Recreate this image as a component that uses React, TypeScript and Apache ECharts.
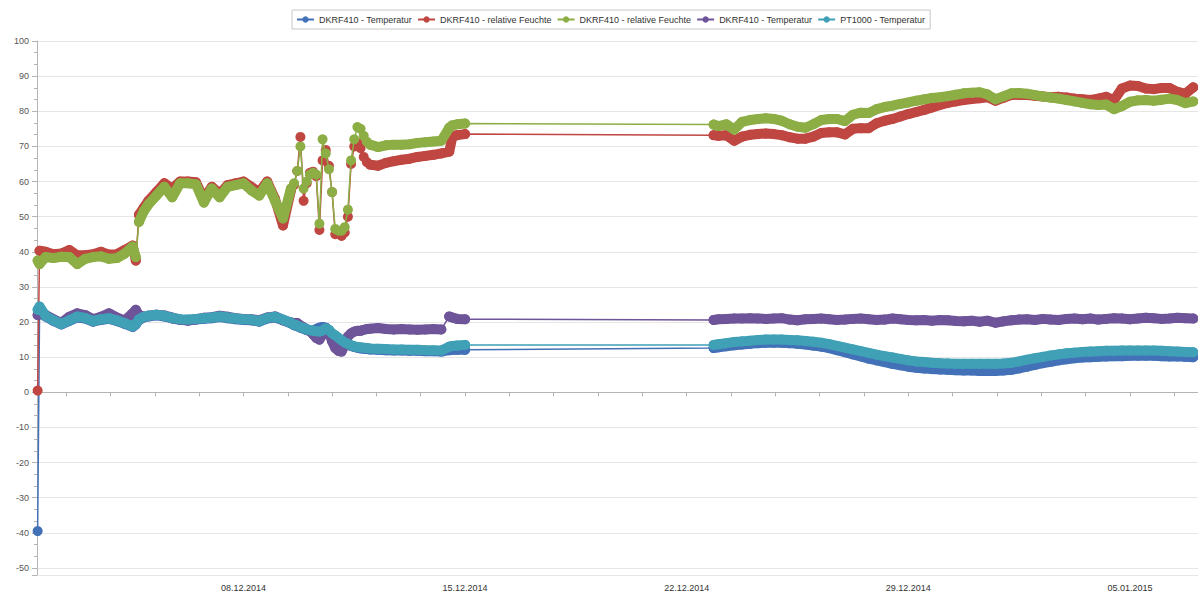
import React, { useEffect, useRef } from "react";
import * as echarts from "echarts";

// time in days since 01.12.2014 00:00
const days = [
  0.5, 0.56, 0.75, 1, 1.25, 1.5, 1.75, 2, 2.25, 2.5, 2.75, 3, 3.25, 3.5,
  3.6, 3.7, 3.85, 4, 4.25, 4.5, 4.75, 5, 5.25, 5.5, 5.75, 6, 6.25, 6.5, 6.75, 7, 7.25, 7.5, 7.75, 8, 8.25, 8.5,
  8.6, 8.7, 8.8, 8.9, 9.0, 9.1, 9.2, 9.3, 9.4, 9.5, 9.6, 9.7, 9.8, 9.9, 10.0, 10.1, 10.2, 10.3, 10.4, 10.5, 10.6, 10.7, 10.8, 10.9,
  11, 11.25, 11.5, 11.75, 12, 12.25, 12.5, 12.75, 13, 13.25, 13.5, 13.6, 13.75, 14,
  21.85, 22, 22.25, 22.5, 22.75, 23, 23.25, 23.5, 23.75, 24, 24.25, 24.5, 24.75, 25, 25.25, 25.5, 25.75, 26, 26.25, 26.5, 26.75,
  27, 27.25, 27.5, 27.75, 28, 28.25, 28.5, 28.75, 29, 29.25, 29.5, 29.75, 30, 30.25, 30.5, 30.75, 31, 31.25, 31.5, 31.75,
  32, 32.25, 32.5, 32.75, 33, 33.25, 33.5, 33.75, 34, 34.25, 34.5, 34.75, 35, 35.25, 35.5, 35.75, 36, 36.25, 36.5, 36.75, 37,
];

const dkrfTemp1 = [
  -39.5, 22.5, 21.6, 20.3, 19.3, 20.3, 21.3, 21, 20.1, 20.6, 20.9, 20.3, 19.5, 18.6,
  19.3, 20.6, 21.3, 21.6, 21.9, 21.6, 21, 20.6, 20.5, 20.7, 20.9, 21.1, 21.4, 21.1, 20.8, 20.6, 20.5, 20.1, 21, 21.3, 20.5, 19.6,
  19.1, 18.8, 18.4, 18.1, 17.7, 17.5, 17.6, 18, 18.4, 18.6, 18.4, 17.6, 16.6, 16, 15.3, 14.6, 14, 13.6, 13.2, 12.9, 12.7, 12.5, 12.4, 12.3,
  12.2, 12.1, 12, 11.9, 11.9, 11.8, 11.8, 11.7, 11.7, 11.6, 12, 12.1, 12.1, 12.1,
  12.6, 12.8, 13.1, 13.4, 13.6, 13.8, 14, 14.1, 14.1, 14.1, 14, 13.8, 13.6, 13.3, 13, 12.6, 12, 11.4, 10.8, 10.2, 9.6,
  9.1, 8.6, 8.1, 7.7, 7.3, 7, 6.8, 6.6, 6.5, 6.4, 6.3, 6.2, 6.2, 6.1, 6.1, 6.1, 6.2, 6.4, 6.8, 7.3,
  7.8, 8.3, 8.7, 9.1, 9.4, 9.7, 9.9, 10, 10.1, 10.2, 10.3, 10.3, 10.4, 10.4, 10.4, 10.4, 10.3, 10.2, 10.2, 10.1, 10,
];

const dkrfHum1 = [
  0.5, 40.3, 40, 39.3, 39.5, 40.5, 39, 39, 39.3, 40, 39.2, 39.3, 40.5, 41.8,
  37.5, 50.5, 52.5, 54.5, 57, 59.5, 58, 60, 60, 59.8, 55, 58.5, 56.5, 59, 59.5, 60, 58.5, 57, 60, 55, 47.5, 57.5,
  59, 63, 72.7, 54.5, 59.5, 62.5, 62.8, 61.5, 46.2, 66, 69, 64.5, 57, 45, 45.5, 44.5, 45.5, 50, 65, 70, 71, 69.5, 67, 65.5,
  64.8, 64.5, 65.3, 65.8, 66.2, 66.5, 67, 67.3, 67.6, 68, 68.5, 72.8, 73.2, 73.5,
  73.2, 73, 73.2, 71.6, 72.8, 73.3, 73.5, 73.7, 73.5, 73.2, 72.6, 72.2, 72.2, 72.8, 73.8, 74, 74, 73.4, 75, 75.2, 75.2,
  76.6, 77.3, 77.8, 78.5, 79.2, 79.8, 80.4, 81.1, 81.8, 82.4, 82.8, 83.2, 83.5, 83.7, 84, 83, 83.8, 84.6, 84.7, 84.6,
  84.4, 84.2, 84, 84.1, 83.9, 83.6, 83.4, 83.2, 83.6, 84.1, 83.2, 86.5, 87.3, 87.2, 86.5, 86.3, 86.6, 86.6, 85.5, 85, 86.8,
];

const dkrfHum2 = [
  37.5, 36.5, 38.5, 38.2, 38.6, 38.5, 36.5, 38, 38.5, 38.7, 38, 38.2, 39.5, 41.5,
  38.5, 48.5, 51.5, 53.5, 56, 58.5, 55.5, 59.5, 59.5, 59.2, 54, 58, 55.5, 58.5, 59, 59.5, 57.5, 56, 59.5, 54.5, 49.5, 58,
  59.5, 63, 70, 58, 60, 62, 62.5, 62, 48, 72, 68, 63.5, 57, 46.5, 46, 46, 47, 52, 66, 72, 75.5, 75, 73, 71.3,
  70.5, 69.8, 70.3, 70.5, 70.5, 70.6, 71, 71.2, 71.4, 71.6, 75.3, 76, 76.3, 76.5,
  76.2, 75.8, 76.3, 74.8, 77, 77.5, 77.8, 78, 77.8, 77.3, 76.3, 75.6, 75.3, 76.3, 77.5, 77.8, 77.8, 77.2, 79, 79.6, 79.5,
  80.6, 81.2, 81.6, 82.1, 82.5, 83, 83.4, 83.8, 84, 84.3, 84.7, 85.1, 85.3, 85.4, 84.8, 83.4, 84.2, 85.1, 85.2, 85,
  84.6, 84.2, 83.9, 83.6, 83.2, 82.8, 82.4, 82, 81.8, 81.9, 80.6, 81.5, 82.7, 83.1, 83.2, 83, 83.3, 83.6, 83.2, 82.3, 82.8,
];

const dkrfTemp2 = [
  22, 23, 22, 20.8, 19.8, 21.5, 22.5, 22, 20.8, 21.5, 22.5, 21.3, 20.4, 22.5,
  23.5, 22, 21.5, 21.8, 22.1, 21.9, 21.3, 20.7, 20.4, 20.8, 21.2, 21.4, 21.8, 21.5, 21.1, 20.9, 20.8, 20.5, 21.3, 21.6, 20.6, 19.9,
  19.7, 19.7, 19, 18.5, 18, 17.5, 16.5, 15.5, 15, 16.5, 17.5, 17.3, 14.5, 12.6, 11.8, 11.6, 13.5, 15.9, 16.8, 17.3, 17.5, 17.5, 17.8, 18,
  18.1, 18.3, 18, 17.9, 18, 17.9, 17.8, 17.9, 18, 17.9, 21.6, 21.3, 20.9, 20.8,
  20.6, 20.8, 20.9, 21, 21, 21.1, 21, 20.9, 21, 21.1, 20.7, 20.5, 20.8, 20.9, 21, 20.8, 20.6, 20.7, 20.9, 21, 20.8,
  20.6, 20.7, 21, 20.8, 20.6, 20.5, 20.6, 20.4, 20.6, 20.5, 20.3, 20.2, 20.4, 20.1, 20.4, 19.8, 20.2, 20.5, 20.7, 20.8,
  20.6, 20.9, 20.7, 20.6, 20.9, 21, 20.8, 21, 20.7, 20.9, 21.1, 21, 20.8, 21, 21.2, 21.1, 20.9, 21, 21.2, 21.1, 21,
];

const pt1000Temp = [
  23.5, 24.4, 21.8, 20.5, 19.5, 20.5, 21.6, 21.2, 20.3, 20.8, 21.1, 20.5, 19.7, 18.8,
  19.5, 20.8, 21.5, 21.8, 22.1, 21.8, 21.2, 20.8, 20.7, 20.9, 21.1, 21.3, 21.6, 21.3, 21, 20.8, 20.7, 20.3, 21.2, 21.5, 20.7, 19.8,
  19.3, 19, 18.6, 18.3, 17.9, 17.7, 17.5, 17.4, 17.3, 17.6, 18.2, 17.8, 16.8, 16.2, 15.5, 14.8, 14.2, 13.8, 13.4, 13.1, 12.9, 12.8, 12.7, 12.6,
  12.5, 12.4, 12.3, 12.2, 12.2, 12.1, 12.1, 12, 12, 11.9, 13, 13.2, 13.3, 13.5,
  13.5, 13.7, 14, 14.3, 14.5, 14.7, 14.9, 15, 15, 15, 14.9, 14.8, 14.6, 14.4, 14.1, 13.7, 13.2, 12.7, 12.2, 11.7, 11.2,
  10.7, 10.3, 9.9, 9.5, 9.1, 8.8, 8.6, 8.4, 8.3, 8.2, 8.1, 8.1, 8.1, 8.1, 8.1, 8.1, 8.2, 8.4, 8.8, 9.3,
  9.7, 10.1, 10.5, 10.8, 11.1, 11.3, 11.5, 11.6, 11.7, 11.8, 11.8, 11.9, 11.9, 11.9, 11.9, 11.9, 11.8, 11.7, 11.6, 11.5, 11.4,
];

const seriesNames = [
  "DKRF410 - Temperatur",
  "DKRF410 - relative Feuchte",
  "DKRF410 - relative Feuchte ",
  "DKRF410 - Temperatur ",
  "PT1000 - Temperatur",
];
const seriesValues = [dkrfTemp1, dkrfHum1, dkrfHum2, dkrfTemp2, pt1000Temp];
const seriesColors = ["#4371b8", "#bf4641", "#8cae45", "#6e5499", "#3fa0b6"];

// spans (in days) where the recorded band is interrupted and only a thin connecting line is drawn
const gapSpans: [number, number][] = [[14, 21.85]];
const thinSpans: [number, number][][] = [
  [[0.5, 0.56]],
  [[0.5, 0.56], [3.6, 3.7], [8.5, 11]],
  [[3.6, 3.7], [8.5, 11]],
  [[13.25, 13.5]],
  [],
];

// x axis labels (days since 01.12.2014) and tick marks
const labelDays = [7, 14, 21, 28, 35];
const tickDays = [1.4, 2.8, 4.2, 5.6, 7, 8.4, 9.8, 11.2, 12.6, 14, 15.4, 16.8, 18.2, 19.6, 21, 22.4, 23.8, 25.2, 26.6, 28, 29.4, 30.8, 32.2, 33.6, 35, 36.4];

const BASE = Date.UTC(2014, 11, 1);
const pad = (n: number) => (n < 10 ? "0" + n : "" + n);
const fmtDay = (d: number) => {
  const dt = new Date(BASE + Math.round(d * 86400000));
  return pad(dt.getUTCDate()) + "." + pad(dt.getUTCMonth() + 1) + "." + dt.getUTCFullYear();
};

const FONT = "'Liberation Sans', Arial, sans-serif";

function bandData(vals: number[], spans: [number, number][]) {
  const out: any[] = [];
  const all = gapSpans.concat(spans);
  for (let i = 0; i < days.length; i++) {
    out.push([days[i], vals[i]]);
    if (i < days.length - 1) {
      const a = days[i];
      const b = days[i + 1];
      if (all.some(([s, e]) => a >= s - 1e-9 && b <= e + 1e-9)) out.push([(a + b) / 2, "-"]);
    }
  }
  return out;
}

export default function App() {
  const ref = useRef<HTMLDivElement>(null);
  useEffect(() => {
    if (!ref.current) return;
    const chart = echarts.init(ref.current, null, { renderer: "svg" });
    const axisGrey = "#b4b4b4";
    const series: any[] = [];
    seriesNames.forEach((name, k) => {
      const color = seriesColors[k];
      series.push({
        name,
        type: "line",
        data: days.map((d, i) => [d, seriesValues[k][i]]),
        symbol: "circle",
        symbolSize: 10,
        showSymbol: true,
        lineStyle: { width: 1.5, color },
        itemStyle: { color },
        emphasis: { disabled: true },
        z: 2 + k,
      });
      series.push({
        name,
        type: "line",
        data: bandData(seriesValues[k], thinSpans[k]),
        symbol: "none",
        showSymbol: false,
        connectNulls: false,
        lineStyle: { width: 10, color, cap: "round", join: "round" },
        itemStyle: { color },
        emphasis: { disabled: true },
        silent: true,
        z: 2 + k,
      });
    });
    chart.setOption({
      animation: false,
      color: seriesColors,
      legend: {
        left: 292,
        top: 10,
        padding: [5, 5, 5, 4],
        itemGap: 5,
        itemWidth: 17,
        itemHeight: 8,
        borderColor: "#c8c8c8",
        borderWidth: 1,
        formatter: (n: string) => n.trim(),
        textStyle: { fontSize: 9, color: "#333", fontFamily: FONT },
        data: seriesNames,
      },
      grid: { left: 37, right: 0, top: 41, bottom: 19, containLabel: false },
      xAxis: {
        type: "value",
        min: 0.48,
        max: 37.15,
        axisLine: { lineStyle: { color: axisGrey } },
        axisTick: { show: true, customValues: tickDays, length: 4, lineStyle: { color: axisGrey } },
        axisLabel: {
          customValues: labelDays,
          formatter: (v: number) => fmtDay(v),
          fontSize: 9,
          color: "#333",
          margin: 8,
          fontFamily: FONT,
        },
        splitLine: { show: false },
      },
      yAxis: {
        type: "value",
        min: -52,
        max: 100,
        splitNumber: 15,
        axisLine: { show: true, lineStyle: { color: axisGrey } },
        axisTick: { show: true, length: 5, lineStyle: { color: axisGrey } },
        minorTick: { show: true, splitNumber: 3, length: 3, lineStyle: { color: axisGrey } },
        axisLabel: {
          fontSize: 9,
          color: "#555",
          margin: 8,
          fontFamily: FONT,
          formatter: (v: number) => (Math.abs(v % 10) < 1e-6 ? String(Math.round(v)) : ""),
        },
        splitLine: { lineStyle: { color: "#e6e6e6" } },
      },
      series,
    });
    return () => chart.dispose();
  }, []);
  return (
    <div
      ref={ref}
      style={{ position: "fixed", left: 0, top: 0, width: 1198, height: 594, background: "#fff" }}
    />
  );
}
